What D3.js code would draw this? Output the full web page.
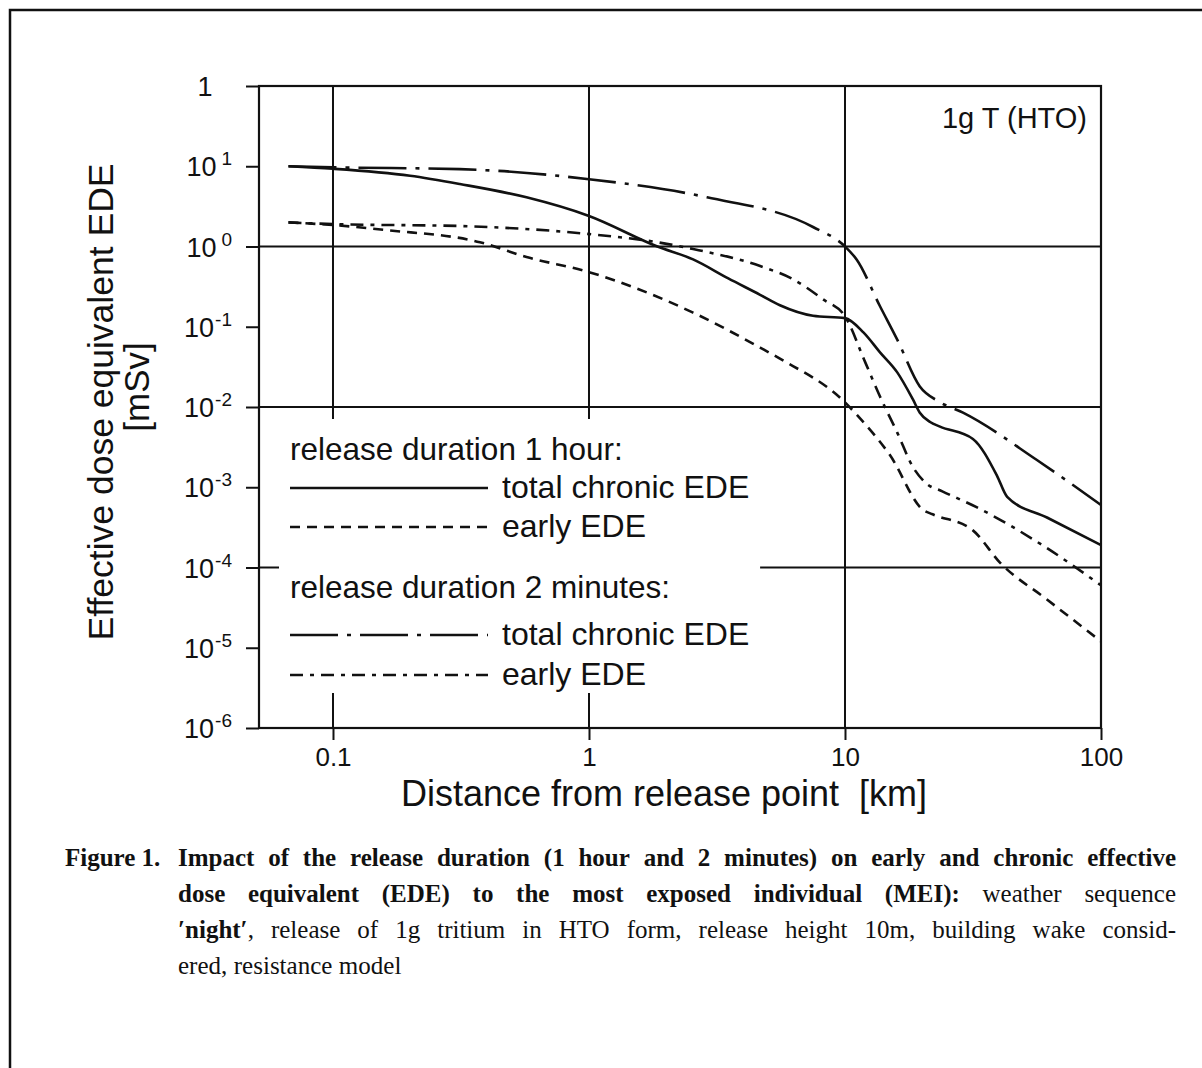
<!DOCTYPE html>
<html>
<head>
<meta charset="utf-8">
<script src="https://cdn.jsdelivr.net/npm/d3@7"></script>
<style>
  html, body { margin: 0; padding: 0; background: #fff; }
  svg { display: block; }
  .sans { font-family: "Liberation Sans", Arial, sans-serif; fill: #111; }
  .serif { font-family: "Liberation Serif", "Times New Roman", serif; fill: #111; }
</style>
</head>
<body>
<script>
// ---- data: distance [km] and effective dose equivalent [mSv] ----
// release duration 1 hour, total chronic EDE
const hour1TotalDist = [0.067, 0.1, 0.2, 0.313, 0.57, 1, 1.85, 2.55, 3.5, 4.66, 5.57, 7.5, 10, 11.8, 13.7, 16, 18.4, 19.6, 21.5, 23.5, 31.6, 39.3, 43, 61.5, 100];
const hour1TotalDose = [10, 9.3, 7.6, 6.0, 4.1, 2.4, 1.0, 0.69, 0.40, 0.25, 0.185, 0.137, 0.128, 0.085, 0.048, 0.027, 0.0125, 0.0085, 0.0065, 0.0057, 0.004, 0.00138, 0.00076, 0.00042, 0.00019];
// release duration 1 hour, early EDE
const hour1EarlyDist = [0.067, 0.1, 0.162, 0.375, 0.57, 1, 2.55, 4.66, 5.57, 10, 11.5, 15, 20.2, 22, 31.6, 40.3, 61.5, 100];
const hour1EarlyDose = [2.0, 1.85, 1.6, 1.13, 0.74, 0.48, 0.15, 0.055, 0.04, 0.0114, 0.0071, 0.0025, 0.00052, 0.00046, 0.00029, 0.000115, 0.00004, 0.000012];
// release duration 2 minutes, total chronic EDE
const min2TotalDist = [0.067, 0.1, 0.313, 1, 2.89, 7.5, 10, 11.1, 13.7, 16, 19.6, 23.5, 28.9, 56, 100];
const min2TotalDose = [10, 9.7, 9.2, 6.9, 4.1, 1.75, 1.0, 0.69, 0.18, 0.069, 0.018, 0.0115, 0.0085, 0.0022, 0.0006];
// release duration 2 minutes, early EDE
const min2EarlyDist = [0.067, 0.1, 0.313, 1, 1.85, 2.55, 4.66, 6.27, 8.2, 10, 12, 13.7, 16, 18.4, 20.9, 24, 32.8, 59, 100];
const min2EarlyDose = [2.0, 1.9, 1.8, 1.43, 1.13, 0.93, 0.57, 0.39, 0.22, 0.135, 0.036, 0.0135, 0.0048, 0.0018, 0.0011, 0.00089, 0.00056, 0.00019, 0.00006];

// ---- axis ticks ----
const xTickVals = [0.1, 1, 10, 100];
const xTickLabels = ["0.1", "1", "10", "100"];
const yTickVals = [1e2, 1e1, 1e0, 1e-1, 1e-2, 1e-3, 1e-4, 1e-5, 1e-6];
const yTickBase = ["1", "10", "10", "10", "10", "10", "10", "10", "10"];
const yTickExp = ["", "1", "0", "-1", "-2", "-3", "-4", "-5", "-6"];

// ---- legend and caption text ----
const legendGroups = ["release duration 1 hour:", "release duration 2 minutes:"];
const legendItems = ["total chronic EDE", "early EDE", "total chronic EDE", "early EDE"];
const captionLabel = "Figure 1.";
const captionLines = [
  [{ t: "Impact of the release duration (1 hour and 2 minutes) on early and chronic effective", b: true }],
  [{ t: "dose equivalent (EDE) to the most exposed individual (MEI):", b: true }, { t: "weather sequence", b: false }],
  [{ t: "\u2032night\u2032", b: true }, { t: ", release of 1g tritium in HTO form, release height 10m, building wake consid-", b: false, join: true }],
  [{ t: "ered, resistance model", b: false }]
];

const W = 1202, H = 1068;
const svg = d3.select("body").append("svg").attr("width", W).attr("height", H);

// page frame (top and left rules of the figure box)
svg.append("path")
  .attr("d", `M10,${H} L10,10 L${W},10`)
  .attr("fill", "none").attr("stroke", "#111").attr("stroke-width", 2.5);

const x = d3.scaleLog().domain([0.0514, 100]).range([259, 1101]);
const y = d3.scaleLog().domain([1e-6, 1e2]).range([728, 86]);
const [x0, x1] = x.range();
const [yb, yt] = y.range();

const ink = "#111";
const g = svg.append("g");

// grid lines
const grid = g.append("g").attr("stroke", ink).attr("stroke-width", 2).attr("fill", "none");
// full horizontal rules at 10^0 and 10^-2
[1, 1e-2].forEach(v => grid.append("line").attr("x1", x0).attr("x2", x1).attr("y1", y(v)).attr("y2", y(v)));
// 10^-4 rule only to the right of the legend
grid.append("line").attr("x1", x(4.66)).attr("x2", x1).attr("y1", y(1e-4)).attr("y2", y(1e-4));
// left stub for 10^-4
grid.append("line").attr("x1", x0).attr("x2", x0 + 20).attr("y1", y(1e-4)).attr("y2", y(1e-4));
// vertical rules; 0.1 and 1 are broken around the legend
const legTop = y(1e-2) + 12, legBot = yb - 35;
[0.1, 1].forEach(v => {
  grid.append("line").attr("x1", x(v)).attr("x2", x(v)).attr("y1", yt).attr("y2", legTop);
  grid.append("line").attr("x1", x(v)).attr("x2", x(v)).attr("y1", legBot).attr("y2", yb);
});
grid.append("line").attr("x1", x(10)).attr("x2", x(10)).attr("y1", yt).attr("y2", yb);

// plot frame
g.append("rect").attr("x", x0).attr("y", yt).attr("width", x1 - x0).attr("height", yb - yt)
  .attr("fill", "none").attr("stroke", ink).attr("stroke-width", 2.2);

// y axis
const yAxis = g.append("g").attr("transform", `translate(${x0},0)`)
  .call(d3.axisLeft(y).tickValues(yTickVals).tickSize(13).tickPadding(14).tickFormat(""));
yAxis.select(".domain").remove();
yAxis.selectAll(".tick line").attr("stroke", ink).attr("stroke-width", 2);
yAxis.selectAll(".tick text").each(function (d, i) {
  const t = d3.select(this)
    .attr("class", "sans").attr("font-size", 27).attr("fill", ink)
    .attr("dy", "0.36em").attr("text-anchor", "end");
  t.append("tspan").text(yTickBase[i]);
  if (yTickExp[i] !== "") {
    t.append("tspan").attr("font-size", 19).attr("dy", -11)
      .attr("dx", yTickExp[i].startsWith("-") ? 1 : 5).text(yTickExp[i]);
  } else {
    t.attr("text-anchor", "middle").attr("x", -54);
  }
});

// x axis
const xAxis = g.append("g").attr("transform", `translate(0,${yb})`)
  .call(d3.axisBottom(x).tickValues(xTickVals).tickSize(12).tickPadding(0).tickFormat((d, i) => xTickLabels[i]));
xAxis.select(".domain").remove();
xAxis.selectAll(".tick line").attr("stroke", ink).attr("stroke-width", 2);
xAxis.selectAll(".tick text").attr("class", "sans").attr("font-size", 26).attr("fill", ink)
  .attr("y", 38).attr("dy", 0);

// axis titles
g.append("text").attr("class", "sans").attr("font-size", 36)
  .attr("x", 664).attr("y", 806).attr("text-anchor", "middle")
  .text("Distance from release point\u00a0\u00a0[km]");
g.append("text").attr("class", "sans").attr("font-size", 35.5)
  .attr("transform", "translate(113,402) rotate(-90)").attr("text-anchor", "middle")
  .text("Effective dose equivalent EDE");
g.append("text").attr("class", "sans").attr("font-size", 35)
  .attr("transform", "translate(149,387) rotate(-90)").attr("text-anchor", "middle")
  .text("[mSv]");

// annotation
g.append("text").attr("class", "sans").attr("font-size", 29)
  .attr("x", 1087).attr("y", 128).attr("text-anchor", "end").text("1g T (HTO)");

// curves
const styles = [
  { dist: hour1TotalDist, dose: hour1TotalDose, dash: null },
  { dist: hour1EarlyDist, dose: hour1EarlyDose, dash: "10,7" },
  { dist: min2TotalDist, dose: min2TotalDose, dash: "48,9,4,9" },
  { dist: min2EarlyDist, dose: min2EarlyDose, dash: "13,7,4,7" }
];
const line = d3.line().x(d => x(d[0])).y(d => y(d[1])).curve(d3.curveMonotoneX);
const curves = g.append("g").attr("fill", "none").attr("stroke", ink).attr("stroke-width", 2.6);
styles.forEach(s => {
  curves.append("path")
    .attr("d", line(s.dist.map((v, i) => [v, s.dose[i]])))
    .attr("stroke-dasharray", s.dash);
});

// legend
const leg = g.append("g");
const legX = 290, legLineEnd = 488, legTextX = 502;
const groupY = [460, 598];
const itemY = [488, 527, 635, 675];
legendGroups.forEach((t, i) => {
  leg.append("text").attr("class", "sans").attr("font-size", 31.5)
    .attr("x", legX).attr("y", groupY[i]).text(t);
});
legendItems.forEach((t, i) => {
  leg.append("line").attr("x1", legX).attr("x2", legLineEnd).attr("y1", itemY[i]).attr("y2", itemY[i])
    .attr("stroke", ink).attr("stroke-width", 2.6).attr("stroke-dasharray", styles[i].dash);
  leg.append("text").attr("class", "sans").attr("font-size", 32)
    .attr("x", legTextX).attr("y", itemY[i] + 10).text(t);
});

// caption, justified between two margins
const cap = svg.append("g").attr("class", "serif").attr("font-size", 25);
cap.append("text").attr("x", 65).attr("y", 866).attr("font-weight", "bold").text(captionLabel);
const capLeft = 178, capRight = 1176, capTop = 866, capLead = 36;
captionLines.forEach((segs, li) => {
  // split into words, keeping bold runs
  const words = [];
  segs.forEach(seg => {
    seg.t.split(" ").forEach((w, k) => {
      if (w === "") return;
      if (k === 0 && seg.join && words.length) words[words.length - 1].push({ t: w, b: seg.b });
      else words.push([{ t: w, b: seg.b }]);
    });
  });
  const nodes = words.map(parts => {
    const t = cap.append("text").attr("y", capTop + li * capLead);
    parts.forEach(p => t.append("tspan").attr("font-weight", p.b ? "bold" : "normal").text(p.t));
    return t;
  });
  const widths = nodes.map(n => n.node().getComputedTextLength());
  const total = d3.sum(widths);
  const last = li === captionLines.length - 1;
  const gap = last ? 6.5 : (capRight - capLeft - total) / (nodes.length - 1);
  let cx = capLeft;
  nodes.forEach((n, k) => { n.attr("x", cx); cx += widths[k] + gap; });
});
</script>
</body>
</html>
